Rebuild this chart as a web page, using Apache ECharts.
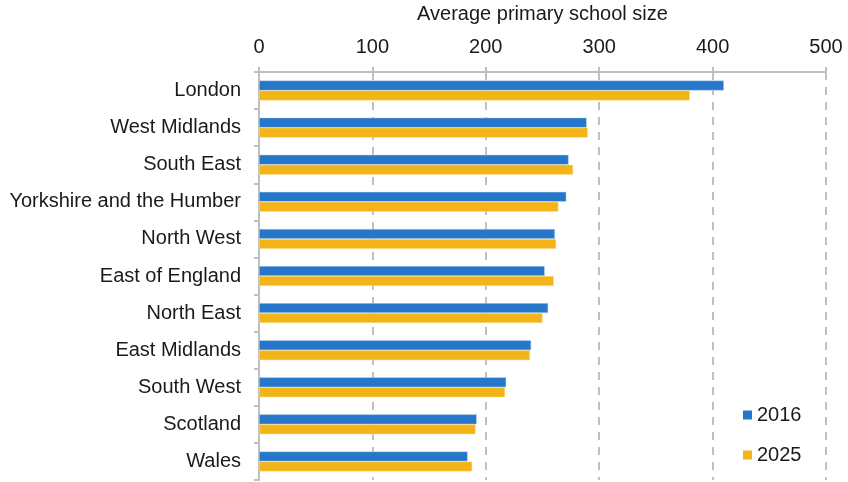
<!DOCTYPE html>
<html>
<head>
<meta charset="utf-8">
<script src="https://cdn.jsdelivr.net/npm/echarts@6/dist/echarts.min.js"></script>
<style>
  html, body { margin: 0; padding: 0; background: #fff; }
  #chart { width: 848px; height: 482px; }
</style>
</head>
<body>
<div id="chart"></div>
<script>
const regions = ['London', 'West Midlands', 'South East', 'Yorkshire and the Humber', 'North West',
    'East of England', 'North East', 'East Midlands', 'South West', 'Scotland', 'Wales'];
const size2016 = [410, 289, 273, 271, 261, 252, 255, 240, 218, 192, 184];
const size2025 = [380, 290, 277, 264, 262, 260, 250, 239, 217, 191, 188];
const xTicks = [0, 100, 200, 300, 400, 500];

const chart = echarts.init(document.getElementById('chart'));
const font = 'Liberation Sans, Arial, sans-serif';
const ink = '#1a1a1a';

const option = {
    backgroundColor: '#ffffff',
    animation: false,
    textStyle: { fontFamily: font },
    legend: {
        orient: 'vertical',
        left: 738,
        top: 400,
        itemWidth: 9,
        itemHeight: 9,
        itemGap: 20,
        icon: 'rect',
        itemStyle: { borderWidth: 0 },
        textStyle: { fontSize: 20, color: ink, fontFamily: font }
    },
    grid: {
        left: 259,
        right: 22,
        top: 72,
        bottom: 2,
        outerBoundsMode: 'none'
    },
    xAxis: {
        type: 'value',
        position: 'top',
        min: xTicks[0],
        max: xTicks[xTicks.length - 1],
        interval: 100,
        name: 'Average primary school size',
        nameLocation: 'middle',
        nameGap: 48,
        nameTextStyle: { fontSize: 20, color: ink, fontFamily: font },
        axisLine: { show: true, lineStyle: { color: '#bfbfbf', width: 2 } },
        axisTick: { show: true, length: 5, lineStyle: { color: '#bfbfbf', width: 2 } },
        axisLabel: { fontSize: 20, color: ink, margin: 15, fontFamily: font },
        splitLine: {
            show: true,
            lineStyle: { color: '#c0c0c0', width: 2, type: [8, 7] }
        }
    },
    yAxis: {
        type: 'category',
        inverse: true,
        data: regions,
        axisLine: { show: true, lineStyle: { color: '#bfbfbf', width: 2 } },
        axisTick: { show: true, length: 5, lineStyle: { color: '#bfbfbf', width: 2 } },
        axisLabel: { fontSize: 20, color: ink, margin: 18, fontFamily: font }
    },
    series: [
        {
            name: '2016',
            type: 'bar',
            data: size2016,
            barWidth: 10,
            barGap: '0%',
            itemStyle: { color: '#2677c9', borderColor: '#c5dcf3', borderWidth: 0.5 }
        },
        {
            name: '2025',
            type: 'bar',
            data: size2025,
            barWidth: 10,
            itemStyle: { color: '#f2b418', borderColor: '#fbe6a8', borderWidth: 0.5 }
        }
    ]
};

chart.setOption(option);
</script>
</body>
</html>
